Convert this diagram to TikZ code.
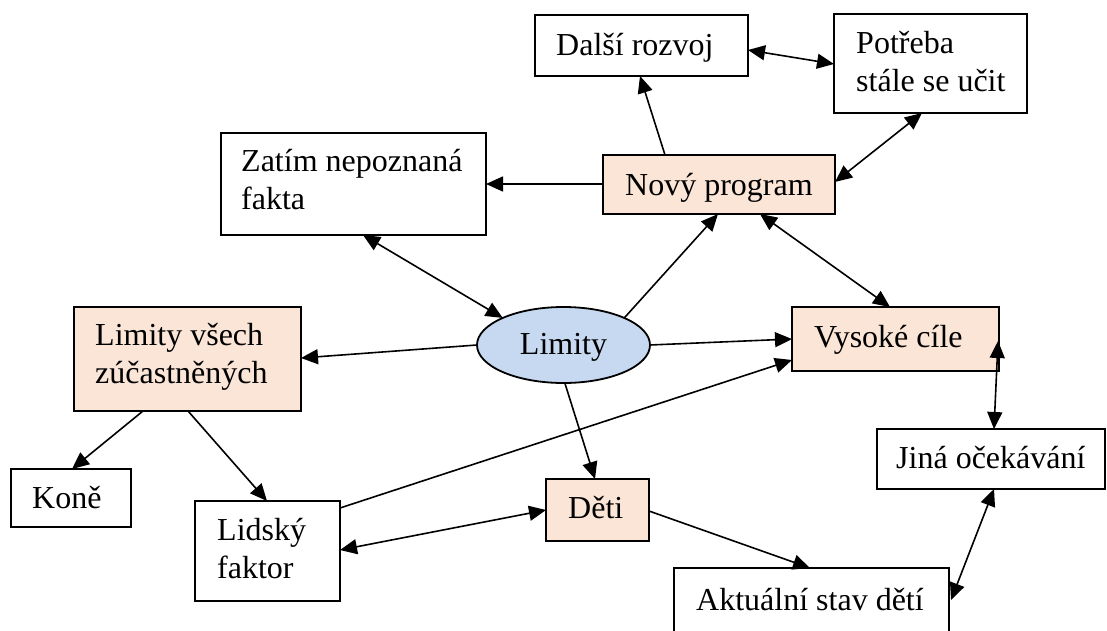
\documentclass[tikz,border=0pt]{standalone}
\usepackage{fontspec}
\setmainfont{Liberation Serif}
\usetikzlibrary{calc,arrows.meta,shapes.geometric}
\definecolor{peach}{HTML}{FBE5D6}
\definecolor{skyfill}{HTML}{C6D9F1}
\begin{document}
\begin{tikzpicture}[x=1pt,y=-1pt,
  box/.style={draw=black, line width=1.8pt, fill=white, rectangle, anchor=north west, inner sep=0pt, outer sep=0pt},
  hot/.style={box, fill=peach},
  txt/.style={anchor=base west, inner sep=0pt, align=left, font=\fontsize{32}{38}\selectfont},
  link/.style={line width=1.6pt, -{Triangle[length=17pt,width=15pt]}},
  both/.style={line width=1.6pt, {Triangle[length=17pt,width=15pt]}-{Triangle[length=17pt,width=15pt]}},
]
\useasboundingbox (0,0) rectangle (1107,631);
\clip (0,0) rectangle (1107,631);

% boxes
\node[box, minimum width=213, minimum height=61]  (dalsi)   at (535,15)  {};
\node[box, minimum width=193, minimum height=99]  (potreba) at (834,14)  {};
\node[hot, minimum width=232, minimum height=59]  (novy)    at (603,155) {};
\node[box, minimum width=265, minimum height=102] (zatim)   at (221,133) {};
\node[hot, minimum width=227, minimum height=104] (limvse)  at (74,307)  {};
\node[box, minimum width=120, minimum height=58]  (kone)    at (11,469)  {};
\node[box, minimum width=145, minimum height=100] (lidsky)  at (195,501) {};
\node[hot, minimum width=207, minimum height=64]  (vysoke)  at (792,307) {};
\node[box, minimum width=228, minimum height=60]  (jina)    at (877,429) {};
\node[hot, minimum width=103, minimum height=62]  (deti)    at (546,479) {};
\node[box, minimum width=275, minimum height=90]  (aktual)  at (674,568) {};
\node[ellipse, draw=black, line width=1.8pt, fill=skyfill, minimum width=173, minimum height=76,
      inner sep=0pt, outer sep=0pt, text depth=2pt, font=\fontsize{32}{38}\selectfont] (lim) at (563.5,345) {Limity};

% box texts (two-line texts are placed by the baseline of their last line)
\node[txt] (dalsi-t)   at ($(dalsi.north west)+(21,41)$)   {Další rozvoj};
\node[txt] (potreba-t) at ($(potreba.north west)+(22,78)$) {Potřeba\\stále se učit};
\node[txt] (novy-t)    at ($(novy.north west)+(22,40)$)    {Nový program};
\node[txt] (zatim-t)   at ($(zatim.north west)+(20,76)$)   {Zatím nepoznaná\\fakta};
\node[txt] (limvse-t)  at ($(limvse.north west)+(21,76)$)  {Limity všech\\zúčastněných};
\node[txt] (kone-t)    at ($(kone.north west)+(21,39)$)    {Koně};
\node[txt] (lidsky-t)  at ($(lidsky.north west)+(22,77)$)  {Lidský\\faktor};
\node[txt] (vysoke-t)  at ($(vysoke.north west)+(22,40)$)  {Vysoké cíle};
\node[txt] (jina-t)    at ($(jina.north west)+(19,39)$)    {Jiná očekávání};
\node[txt] (deti-t)    at ($(deti.north west)+(22,39)$)    {Děti};
\node[txt] (aktual-t)  at ($(aktual.north west)+(22,42)$)  {Aktuální stav dětí};

% connectors
\draw[link] ($(novy.north west)+(62,0)$) -- ($(dalsi.south west)+(105,0)$);
\draw[both] ($(dalsi.north east)+(0,35)$) -- ($(potreba.north west)+(0,50)$);
\draw[both] ($(potreba.south west)+(88,0)$) -- ($(novy.north east)+(0,27)$);
\draw[link] ($(novy.north west)+(0,29)$) -- ($(zatim.north east)+(0,51)$);
\draw[both] ($(zatim.south west)+(142,0)$) -- (lim.156);
\draw[link] (lim.24) -- ($(novy.south west)+(115,0)$);
\draw[both] ($(novy.south west)+(157,0)$) -- ($(vysoke.north west)+(98,0)$);
\draw[link] (lim.west) -- ($(limvse.north east)+(0,51)$);
\draw[link] (lim.east) -- ($(vysoke.north west)+(0,32)$);
\draw[link] (lim.-88) -- ($(deti.north west)+(49,0)$);
\draw[link] ($(lidsky.north east)+(0,7)$) -- ($(vysoke.north west)+(0,53)$);
\draw[both] ($(lidsky.north east)+(0,49)$) -- ($(deti.north west)+(0,31)$);
\draw[link] ($(limvse.south west)+(69,0)$) -- ($(kone.north west)+(61,0)$);
\draw[link] ($(limvse.south west)+(114,0)$) -- ($(lidsky.north west)+(72,0)$);
\draw[link] ($(deti.north east)+(0,32)$) -- ($(aktual.north west)+(136,0)$);
\draw[both] ($(vysoke.north east)+(-1,34)$) -- ($(jina.north west)+(117,0)$);
\draw[both] ($(jina.south west)+(117,0)$) -- ($(aktual.north east)+(2,32)$);
\end{tikzpicture}
\end{document}
